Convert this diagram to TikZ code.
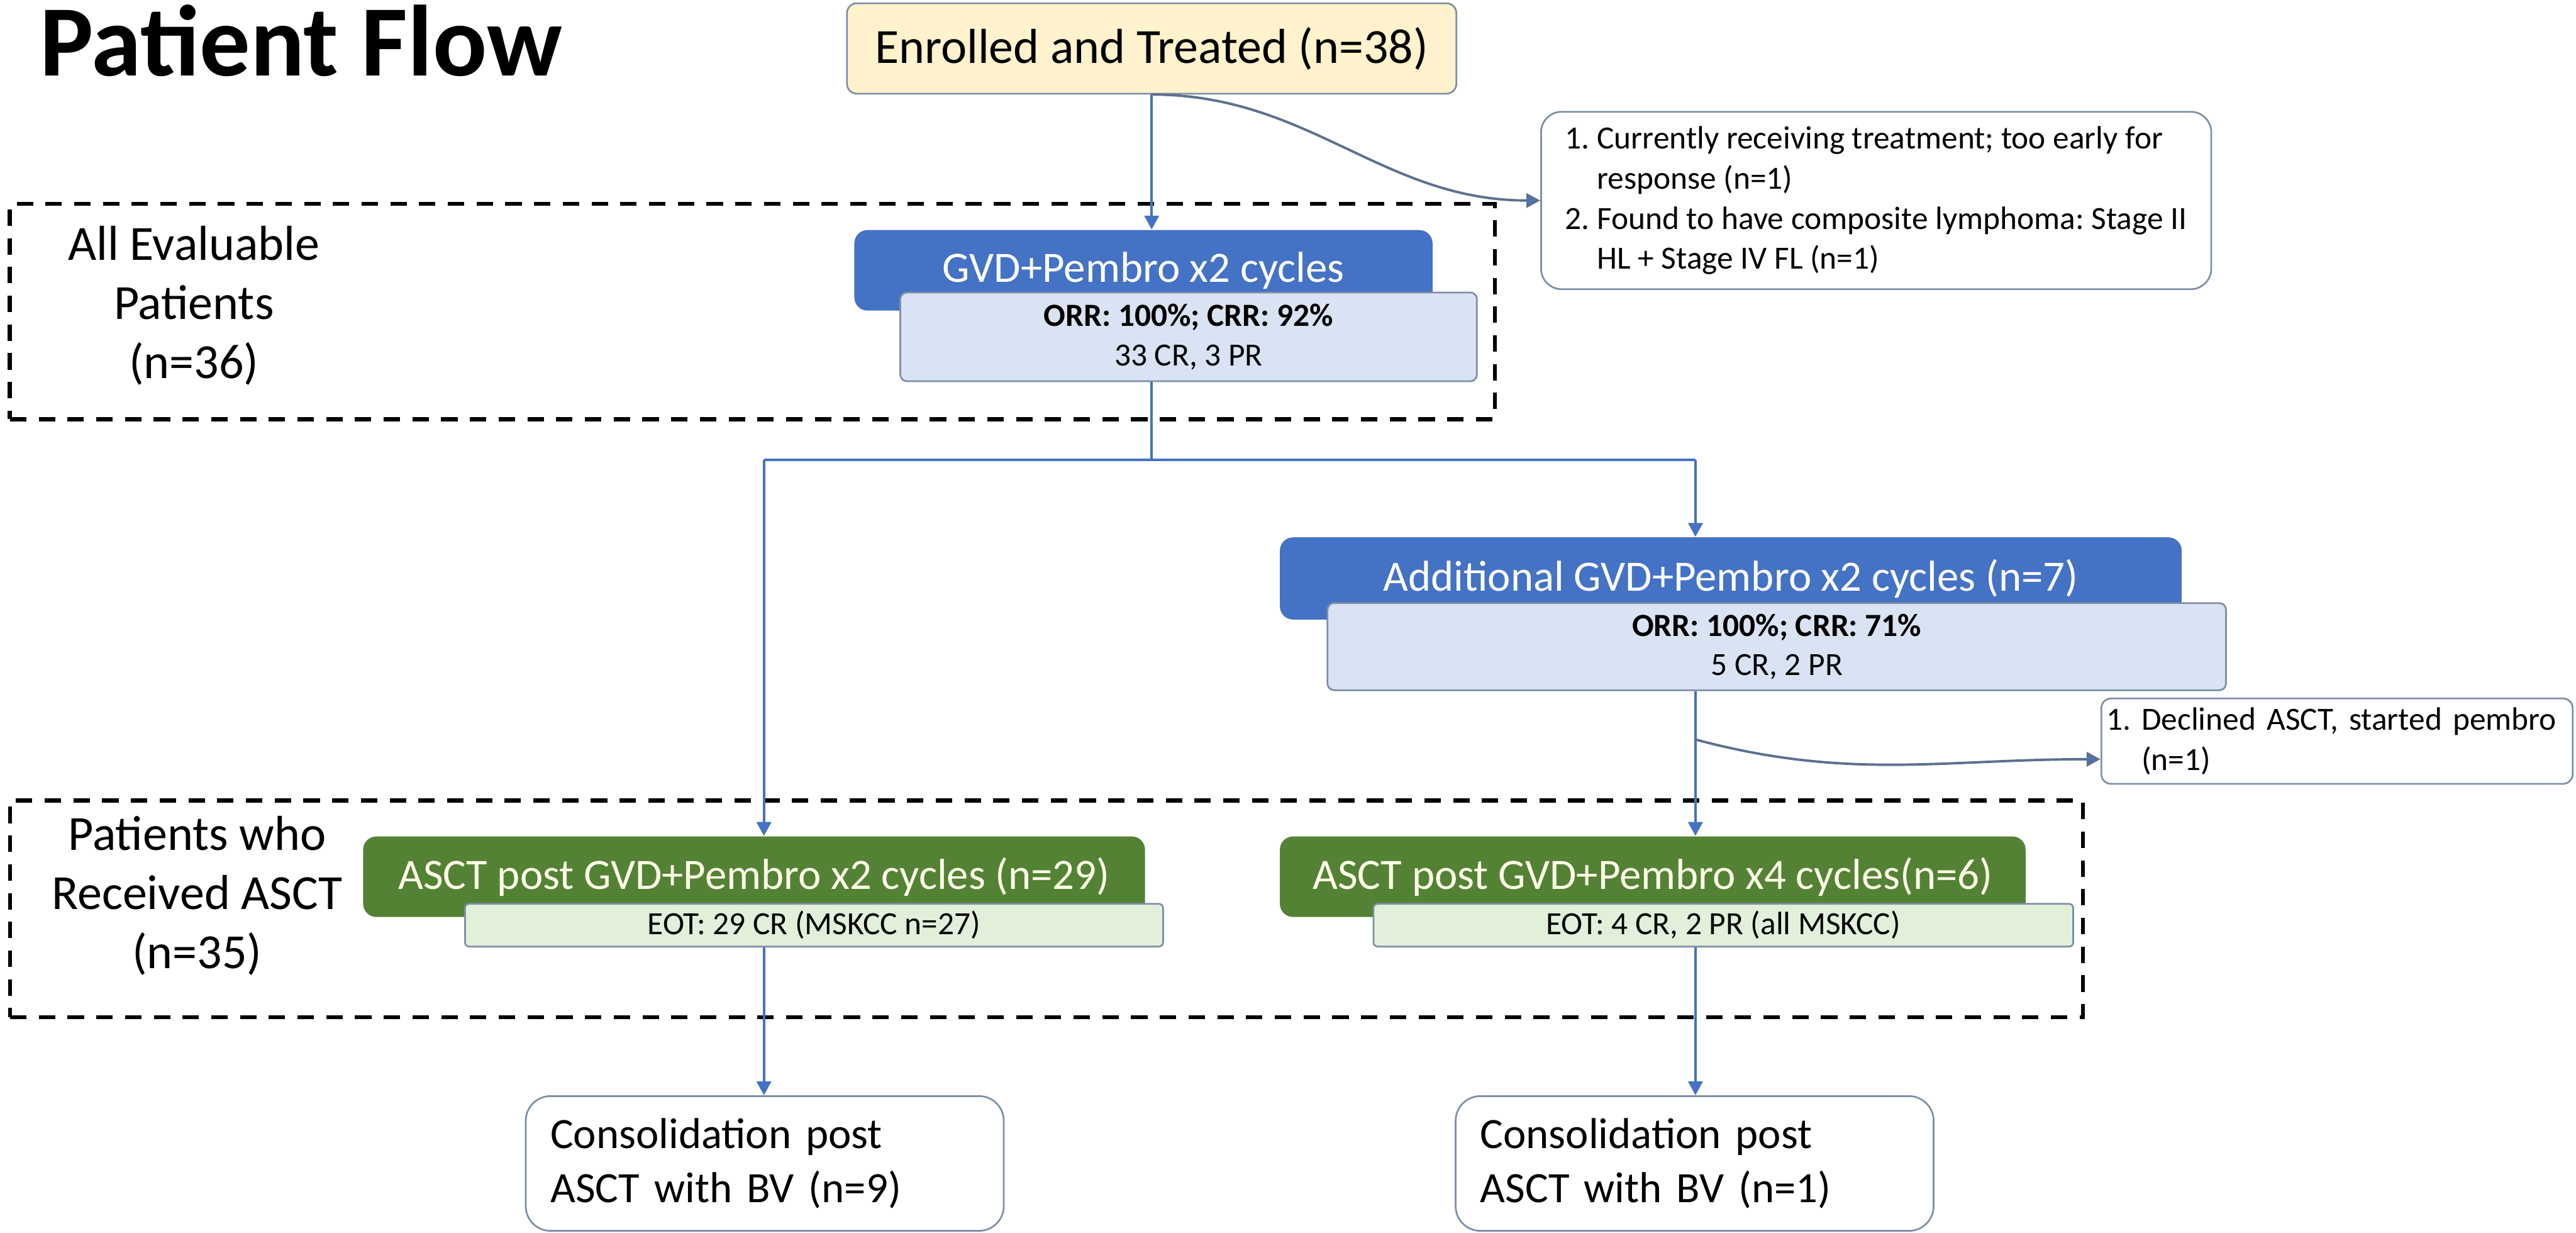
\documentclass[tikz,border=0pt]{standalone}
\usepackage{fontspec}
\setmainfont{Carlito}
\usetikzlibrary{arrows.meta}

\definecolor{boxblue}{HTML}{4472C4}
\definecolor{paleblue}{HTML}{DAE3F3}
\definecolor{boxgreen}{HTML}{548235}
\definecolor{palegreen}{HTML}{E2F0D9}
\definecolor{paleyellow}{HTML}{FFF2CC}
\definecolor{edgegray}{HTML}{7F8FA9}
\definecolor{curvegray}{HTML}{5C7091}
\definecolor{creamtext}{HTML}{FFFDE8}

\frenchspacing

\begin{document}
\begin{tikzpicture}[x=0.02cm, y=-0.02cm,
    every node/.style={font=\fontsize{15}{18}\selectfont},
    darkbox/.style={rectangle, rounded corners=0.16cm, inner sep=0pt, text=white},
    resultbox/.style={rectangle, rounded corners=0.08cm, draw=edgegray, line width=0.6pt, inner sep=0pt, align=center, font=\fontsize{11.2}{13.6}\selectfont},
    notebox/.style={rectangle, rounded corners=0.25cm, draw=edgegray, fill=white, line width=0.6pt, inner ysep=0pt, align=left},
    groupbox/.style={rectangle, draw=black, line width=1.5pt, dash pattern=on 0.2cm off 0.15cm, inner sep=0pt},
    grouplabel/.style={align=center, font=\fontsize{17}{20.5}\selectfont},
    connector/.style={draw=boxblue, line width=0.85pt},
    flowarrow/.style={connector, -{Triangle[width=5pt, length=4.8pt]}},
    exitcurve/.style={draw=curvegray, line width=0.85pt, -{Triangle[width=5pt, length=4.8pt, fill=boxblue]}}]

    \useasboundingbox (0,0) rectangle (1568,750);

    % title
    \node[anchor=base west, font=\fontsize{35}{40}\selectfont\bfseries] (title) at (18,46) {Patient Flow};

    % enrolled
    \node[rectangle, rounded corners=0.12cm, draw=edgegray, fill=paleyellow, line width=0.6pt,
          minimum width=7.42cm, minimum height=1.1cm, font=\fontsize{17}{20}\selectfont] (enrolled) at (701,29.5) {Enrolled and Treated (n=38)};

    % not evaluable
    \node[notebox, minimum width=8.16cm, minimum height=2.16cm, font=\fontsize{11.2}{13.9}\selectfont] (excl1) at (1142,122)
        {1. Currently receiving treatment; too early for\\\phantom{1.}~response (n=1)\\2. Found to have composite lymphoma: Stage II\\\phantom{2.}~HL + Stage IV FL (n=1)};

    % all evaluable patients
    \node[groupbox, minimum width=18.08cm, minimum height=2.62cm] (evalgroup) at (458,189.5) {};
    \node[grouplabel] (evallabel) at (118,186) {All Evaluable\\Patients\\(n=36)};

    % first two cycles
    \node[darkbox, fill=boxblue, minimum width=7.04cm, minimum height=0.98cm] (gvd) at (696,164.5) {GVD+Pembro x2 cycles};
    \node[resultbox, fill=paleblue, minimum width=7.02cm, minimum height=1.08cm] (gvdresp) at (723.5,205)
        {\textbf{ORR: 100\%; CRR: 92\%}\\33 CR, 3 PR};

    % split
    \coordinate (split1) at (701,280);
    \coordinate (col1) at (465,280);
    \coordinate (col2) at (1032,280);

    % additional cycles
    \node[darkbox, fill=boxblue, minimum width=10.98cm, minimum height=1.0cm] (additional) at (1053.5,352) {Additional GVD+Pembro x2 cycles (n=7)};
    \node[resultbox, fill=paleblue, minimum width=10.94cm, minimum height=1.06cm] (addresp) at (1081.5,393.5)
        {\textbf{ORR: 100\%; CRR: 71\%}\\5 CR, 2 PR};

    % declined
    \coordinate (split2) at (1032,450);
    \node[notebox, rounded corners=0.12cm, text width=5.62cm, inner xsep=0.06cm, minimum height=1.04cm, font=\fontsize{11.2}{14}\selectfont] (declined) at (1422.5,451)
        {1. Declined ASCT, started pembro\\\phantom{1.}~(n=1)};

    % patients who received ASCT
    \node[groupbox, minimum width=25.24cm, minimum height=2.64cm] (asctgroup) at (637,553) {};
    \node[grouplabel] (asctlabel) at (120,545) {Patients who\\Received ASCT\\(n=35)};

    \node[darkbox, fill=boxgreen, text=creamtext, minimum width=9.52cm, minimum height=0.98cm] (asct1) at (459,533.5) {ASCT post GVD+Pembro x2 cycles (n=29)};
    \node[resultbox, fill=palegreen, rounded corners=0.05cm, minimum width=8.5cm, minimum height=0.52cm] (eot1) at (495.5,563) {EOT: 29 CR (MSKCC n=27)};

    \node[darkbox, fill=boxgreen, text=creamtext, minimum width=9.08cm, minimum height=0.98cm] (asct2) at (1006,533.5) {ASCT post GVD+Pembro x4 cycles(n=6)};
    \node[resultbox, fill=palegreen, rounded corners=0.05cm, minimum width=8.52cm, minimum height=0.52cm] (eot2) at (1049,563) {EOT: 4 CR, 2 PR (all MSKCC)};

    % consolidation
    \node[notebox, rounded corners=0.3cm, text width=5.22cm, inner xsep=0.3cm, minimum height=1.64cm, font=\fontsize{15}{18.7}\selectfont] (consol1) at (465.5,708)
        {Consolidation post\\ASCT with BV (n=9)};
    \node[notebox, rounded corners=0.3cm, text width=5.22cm, inner xsep=0.3cm, minimum height=1.64cm, font=\fontsize{15}{18.7}\selectfont] (consol2) at (1031.5,708)
        {Consolidation post\\ASCT with BV (n=1)};

    % arrows
    \draw[flowarrow] (enrolled.south) -- (enrolled.south |- gvd.north);
    \draw[exitcurve] (enrolled.south) to[out=0, in=180] (excl1.west);
    \draw[connector] (split1 |- gvdresp.south) -- (split1);
    \draw[connector] (col1) -- (col2);
    \draw[flowarrow] (col1) -- (col1 |- asct1.north);
    \draw[flowarrow] (col2) -- (col2 |- additional.north);
    \draw[flowarrow] (col2 |- addresp.south) -- (col2 |- asct2.north);
    \draw[exitcurve] (split2) to[out=-15, in=180] ([yshift=-0.22cm]declined.west);
    \draw[flowarrow] (col1 |- eot1.south) -- (col1 |- consol1.north);
    \draw[flowarrow] (col2 |- eot2.south) -- (col2 |- consol2.north);

\end{tikzpicture}
\end{document}
